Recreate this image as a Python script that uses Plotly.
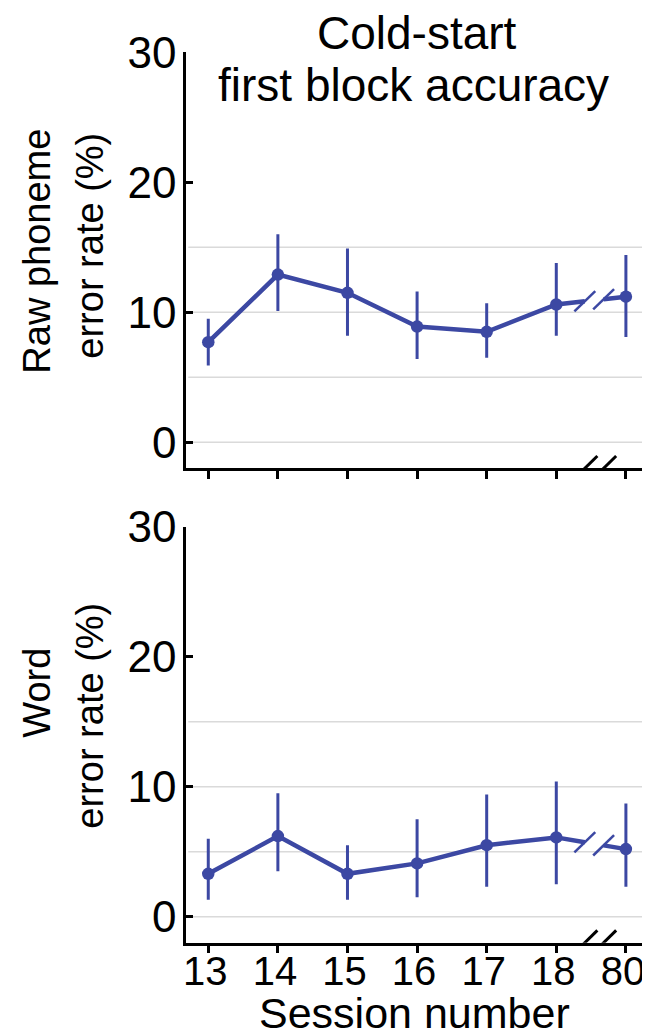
import plotly.graph_objects as go

# ---------------- data ----------------
SESSIONS = ["13", "14", "15", "16", "17", "18", "80"]

PHONEME_MEAN = [7.7, 12.9, 11.5, 8.9, 8.5, 10.6, 11.2]
PHONEME_HI = [9.5, 16.0, 14.9, 11.6, 10.7, 13.8, 14.4]
PHONEME_LO = [5.9, 10.1, 8.2, 6.4, 6.5, 8.2, 8.1]

WORD_MEAN = [3.3, 6.2, 3.3, 4.1, 5.5, 6.1, 5.2]
WORD_HI = [6.0, 9.5, 5.5, 7.5, 9.4, 10.4, 8.7]
WORD_LO = [1.3, 3.5, 1.3, 1.5, 2.3, 2.5, 2.3]

Y_TICKS = [0, 10, 20, 30]
GRID_VALUES = [0, 5, 10, 15]

TITLE_LINES = ["Cold-start", "first block accuracy"]
YTITLE_TOP_LINES = ["Raw phoneme", "error rate (%)"]
YTITLE_BOT_LINES = ["Word", "error rate (%)"]
XTITLE = "Session number"

# ---------------- style ----------------
OFF = 8  # page body margin
W, H = 650, 1036
COLOR = "#3c48a3"
FONT = "Liberation Sans, Arial, Helvetica, sans-serif"
FS_TITLE = 46
FS_YTITLE = 38
FS_XTITLE = 43
FS_YTICK = 44
FS_XTICK = 40
Y_RANGE = [-2, 30]
X_RANGE = [-0.32, 6.25]
BREAK_X = (5.41, 5.68)      # where the broken segment ends / restarts
SLASH_DX, SLASH_DY = 0.15, 0.78
AX_SLASH_DX, AX_SLASH_DY = 0.18, 0.95


def px_x(p):
    return (p - OFF) / W


def px_y(p):
    return 1 - (p - OFF) / H


XDOM = [px_x(186), px_x(643.3)]
YDOM_TOP = [px_y(468.3), px_y(52.3)]
YDOM_BOT = [px_y(942.7), px_y(526.7)]

fig = go.Figure()

n = len(SESSIONS)
xs = list(range(n))


def add_panel(mean, hi, lo, xa, ya):
    def interp(bx):
        t = (bx - xs[-2]) / (xs[-1] - xs[-2])
        return mean[-2] + t * (mean[-1] - mean[-2])

    b0, b1 = BREAK_X
    y0, y1 = interp(b0), interp(b1)
    fig.add_trace(go.Scatter(x=xs[:-1] + [b0], y=mean[:-1] + [y0], mode="lines",
                             line=dict(color=COLOR, width=4.5), xaxis=xa, yaxis=ya,
                             hoverinfo="skip", showlegend=False))
    fig.add_trace(go.Scatter(x=[b1, xs[-1]], y=[y1, mean[-1]], mode="lines",
                             line=dict(color=COLOR, width=4.5), xaxis=xa, yaxis=ya,
                             hoverinfo="skip", showlegend=False))
    for bx, by in ((b0, y0), (b1, y1)):
        fig.add_trace(go.Scatter(x=[bx - SLASH_DX, bx + SLASH_DX],
                                 y=[by - SLASH_DY, by + SLASH_DY], mode="lines",
                                 line=dict(color=COLOR, width=2.5), xaxis=xa, yaxis=ya,
                                 hoverinfo="skip", showlegend=False, cliponaxis=False))
    for bx in BREAK_X:
        fig.add_trace(go.Scatter(x=[bx - AX_SLASH_DX, bx + AX_SLASH_DX],
                                 y=[Y_RANGE[0] - AX_SLASH_DY, Y_RANGE[0] + AX_SLASH_DY],
                                 mode="lines", line=dict(color="black", width=3),
                                 xaxis=xa, yaxis=ya, hoverinfo="skip",
                                 showlegend=False, cliponaxis=False))
    fig.add_trace(go.Scatter(x=xs, y=mean, mode="markers",
                             marker=dict(color=COLOR, size=12.5),
                             error_y=dict(type="data", symmetric=False,
                                          array=[h - m for h, m in zip(hi, mean)],
                                          arrayminus=[m - l for m, l in zip(mean, lo)],
                                          color=COLOR, thickness=3, width=0),
                             xaxis=xa, yaxis=ya, showlegend=False))
    for g in GRID_VALUES:
        fig.add_shape(type="line", xref=f"{xa} domain", yref=ya,
                      x0=0.005, x1=1, y0=g, y1=g,
                      line=dict(color="#dadada", width=1.5), layer="below")


add_panel(PHONEME_MEAN, PHONEME_HI, PHONEME_LO, "x", "y")
add_panel(WORD_MEAN, WORD_HI, WORD_LO, "x2", "y2")

xaxis_common = dict(range=X_RANGE, tickvals=xs, ticktext=SESSIONS,
                    showline=True, linecolor="black", linewidth=2.5,
                    ticks="outside", ticklen=8, tickwidth=2.5, tickcolor="black",
                    showgrid=False, zeroline=False, domain=XDOM,
                    ticklabelstandoff=-16, ticklabelshift=-3,
                    tickfont=dict(family=FONT, size=FS_XTICK, color="black"))
yaxis_common = dict(range=Y_RANGE, tickvals=Y_TICKS,
                    showline=True, linecolor="black", linewidth=2.5,
                    ticks="inside", ticklen=7, tickwidth=2.5, tickcolor="black",
                    showgrid=False, zeroline=False, ticklabelstandoff=-2,
                    tickfont=dict(family=FONT, size=FS_YTICK, color="black"))


def text_h(txt, cx, baseline, fs):
    # horizontal single-line text positioned by its baseline
    return dict(text=txt, xref="paper", yref="paper", x=px_x(cx),
                y=px_y(baseline - 0.35 * fs), xanchor="center", yanchor="middle",
                showarrow=False, font=dict(family=FONT, size=fs, color="black"))


def text_v(txt, baseline_x, cy, fs):
    # text rotated -90, positioned by its baseline (right side)
    return dict(text=txt, xref="paper", yref="paper", x=px_x(baseline_x - 0.35 * fs),
                y=px_y(cy), xanchor="center", yanchor="middle", textangle=-90,
                showarrow=False, font=dict(family=FONT, size=fs, color="black"))


annotations = [
    text_h(TITLE_LINES[0], 417, 49, FS_TITLE),
    text_h(TITLE_LINES[1], 413, 101, FS_TITLE),
    text_v(YTITLE_TOP_LINES[0], 50, 251, FS_YTITLE),
    text_v(YTITLE_TOP_LINES[1], 103, 246, FS_YTITLE),
    text_v(YTITLE_BOT_LINES[0], 50, 693, FS_YTITLE),
    text_v(YTITLE_BOT_LINES[1], 103, 716, FS_YTITLE),
    text_h(XTITLE, 414, 1028, FS_XTITLE),
]

fig.update_layout(
    width=W, height=H,
    margin=dict(l=0, r=0, t=0, b=0, autoexpand=False),
    paper_bgcolor="white", plot_bgcolor="white",
    xaxis=dict(**xaxis_common, anchor="y", showticklabels=False),
    yaxis=dict(**yaxis_common, anchor="x", domain=YDOM_TOP),
    xaxis2=dict(**xaxis_common, anchor="y2"),
    yaxis2=dict(**yaxis_common, anchor="x2", domain=YDOM_BOT),
    font=dict(family=FONT, size=FS_XTICK, color="black"),
    annotations=annotations,
)

fig.write_html("out.html")
